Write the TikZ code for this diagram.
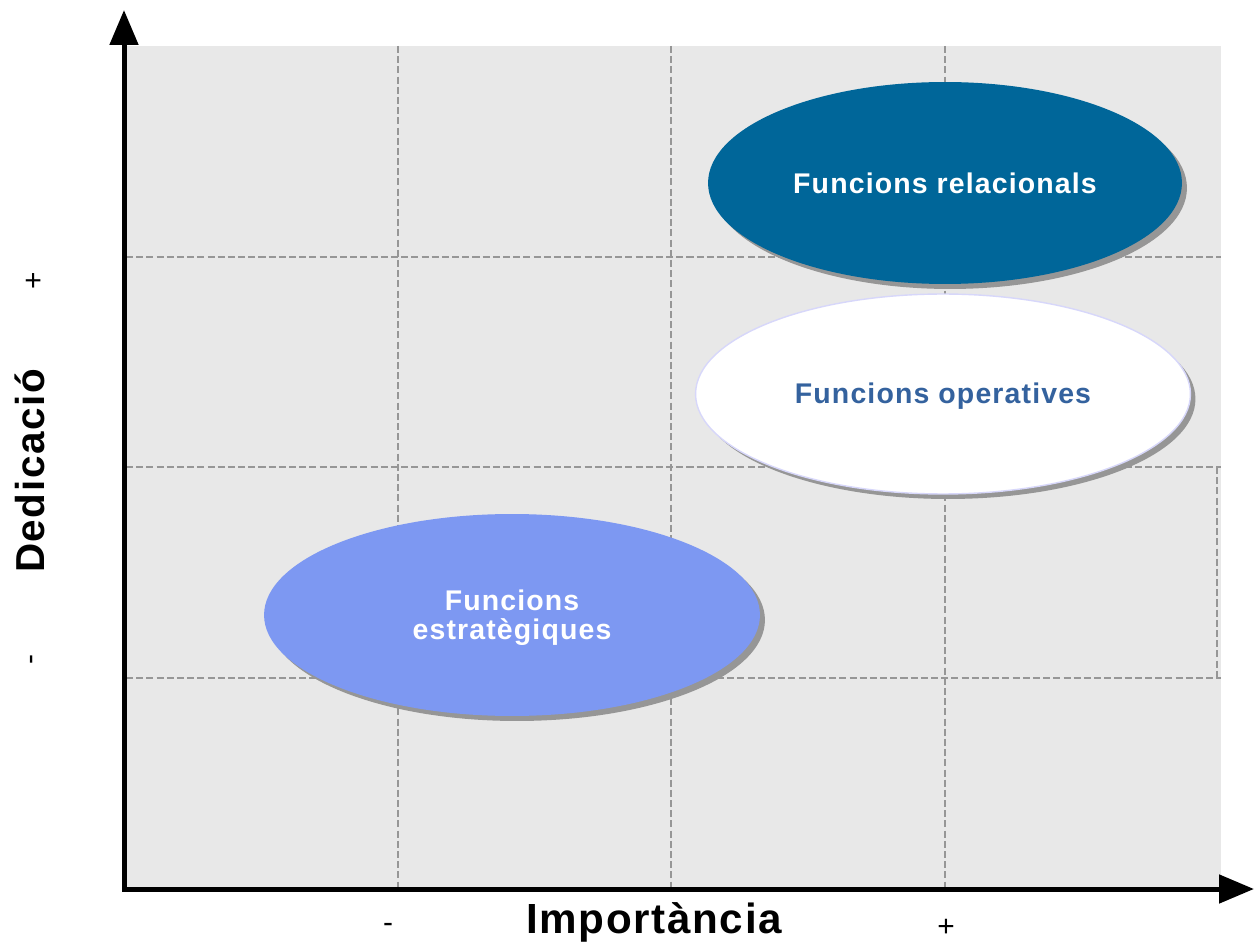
\documentclass[tikz,border=0pt]{standalone}
\usepackage{fontspec}
\setmainfont{Liberation Sans}
\newfontfamily\lblfont[LetterSpace=4]{Liberation Sans}
\usetikzlibrary{shapes.geometric,shadows,arrows.meta}
\definecolor{bggray}{RGB}{232,232,232}
\definecolor{gridgray}{RGB}{150,150,150}
\definecolor{relblue}{RGB}{0,102,153}
\definecolor{estblue}{RGB}{125,152,242}
\definecolor{optext}{RGB}{52,98,158}
\definecolor{opborder}{RGB}{215,215,250}
\definecolor{shadowgray}{RGB}{150,150,150}
\begin{document}
\begin{tikzpicture}[x=0.02cm,y=-0.02cm,
  gridline/.style={draw=gridgray,line width=1.5pt,dash pattern=on 4pt off 1.8pt},
  axisline/.style={line width=0.1cm,-{Triangle[length=0.7cm,width=0.56cm]}},
  bubble/.style={ellipse,inner sep=0pt,
    drop shadow={shadow xshift=0.1cm,shadow yshift=-0.1cm,fill=shadowgray,opacity=1}},
  bubbletext/.style={align=center,inner sep=0pt,font=\lblfont\bfseries\fontsize{16.2}{17}\selectfont},
  axlabel/.style={font=\lblfont\bfseries\fontsize{23}{24}\selectfont},
  sign/.style={font=\fontsize{17}{18}\selectfont}]
\useasboundingbox (0,0) rectangle (1254,945);
\fill[bggray] (126,46) rectangle (1221,888);
% grid
\foreach \x in {398,671,945} \draw[gridline] (\x,46) -- (\x,888);
\foreach \y in {257,467,678} \draw[gridline] (126,\y) -- (1221,\y);
\draw[gridline] (1217,467) -- (1217,678);
% ellipses
\node[bubble,fill=relblue,minimum width=9.48cm,minimum height=4.04cm] (rel) at (945,183) {};
\node[bubbletext,text=white] (reltext) at (945,183) {Funcions relacionals};
\node[bubble,fill=white,draw=opborder,line width=0.8pt,minimum width=9.9cm,minimum height=4.0cm] (op) at (943,394) {};
\node[bubbletext,text=optext] (optxt) at (943,396) {Funcions operatives};
\node[bubble,fill=estblue,minimum width=9.92cm,minimum height=4.04cm] (est) at (512,615) {};
\node[bubbletext,text=white] (esttext) at (512,618) {Funcions\\[-0.5pt]estratègiques};
% axes
\coordinate (origin) at (124,889);
\coordinate (ytop) at (124,10);
\coordinate (xend) at (1254,889);
\draw[axisline] (124,891) -- (ytop);
\draw[axisline] (122,889) -- (xend);
% labels
\node[axlabel,rotate=90] (ded) at (30,471) {Dedicació};
\node[axlabel,font=\lblfont\bfseries\fontsize{24}{26}\selectfont] (imp) at (654,922) {Importància};
\node[sign,rotate=90] (yplus) at (35,281) {+};
\node[sign,rotate=90] (yminus) at (35,660) {-};
\node[sign] (xminus) at (388,928) {-};
\node[sign] (xplus) at (946,928) {+};
\end{tikzpicture}
\end{document}
